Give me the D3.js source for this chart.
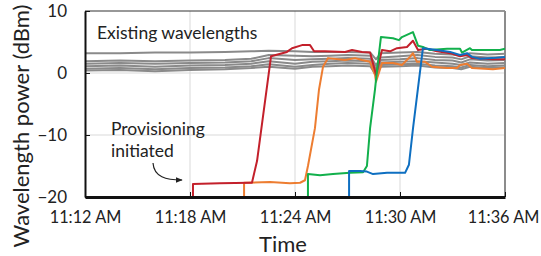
<!DOCTYPE html>
<html>
<head>
<meta charset="utf-8">
<title>Wavelength power</title>
<script src="https://cdn.jsdelivr.net/npm/d3@7"></script>
<style>
    body { margin: 0; background: #fff; }
    text { font-family: Lato, "Open Sans", sans-serif; fill: #222; }
</style>
</head>
<body>
<script>
    // minutes after 11:12 AM, and power in dBm
    var yTicks = [10, 0, -10, -20];
    var xTickMinutes = [0, 6, 12, 18, 24];

    var grayTimes = [0, 2, 4, 6, 8, 9.5, 10.5, 12, 13, 14, 15, 16.3, 16.63, 16.9, 18, 19, 20, 21, 21.5, 22, 23, 24];
    var gray1 = [3.2, 3.2, 3.3, 3.3, 3.4, 3.5, 3.6, 3.5, 3.4, 3.4, 3.4, 3.3, 2.2, 3.2, 3.3, 3.4, 3.1, 3.0, 2.8, 3.2, 3.0, 3.1];
    var gray2 = [1.9, 2.0, 1.9, 2.0, 2.1, 2.3, 2.9, 2.8, 2.7, 2.8, 2.9, 2.8, 1.2, 2.5, 2.7, 2.9, 2.6, 2.5, 2.2, 2.7, 2.5, 2.6];
    var gray3 = [1.5, 1.6, 1.5, 1.6, 1.7, 1.9, 2.4, 2.1, 2.2, 2.3, 2.4, 2.3, 0.7, 2.1, 2.2, 2.4, 2.1, 2.0, 1.7, 2.2, 2.0, 2.1];
    var gray4 = [1.1, 1.2, 1.0, 1.2, 1.3, 1.5, 1.9, 1.5, 1.8, 1.9, 2.0, 1.9, 0.3, 1.7, 1.8, 1.9, 1.7, 1.5, 1.3, 1.7, 1.5, 1.6];
    var gray5 = [0.7, 0.8, 0.6, 0.8, 0.9, 1.1, 1.4, 1.0, 1.3, 1.5, 1.6, 1.5, 0.0, 1.3, 1.4, 1.5, 1.2, 1.1, 0.9, 1.3, 1.1, 1.2];
    var gray6 = [0.4, 0.5, 0.3, 0.5, 0.6, 0.8, 1.0, 0.7, 1.0, 1.1, 1.2, 1.1, -0.4, 1.0, 1.1, 1.2, 0.9, 0.8, 0.6, 1.0, 0.8, 0.9];

    var redTimes = [6.17, 6.17, 7.71, 9.43, 9.54, 9.83, 10.63, 11.54, 11.83, 12.4, 12.86, 13.09, 13.71, 14.86, 15.26, 15.83, 16.29, 16.63, 16.97, 17.43, 17.83, 18.4, 18.74, 19.03, 19.54, 20.11, 20.86, 21.43, 21.83, 22.11, 23.31, 24];
    var redValues = [-20, -17.9, -17.8, -17.7, -17.7, -14.2, 2.7, 3.4, 4.0, 4.5, 4.5, 3.5, 3.5, 3.4, 3.7, 3.4, 3.3, -0.3, 3.7, 3.5, 4.0, 4.2, 5.2, 3.7, 3.9, 3.5, 3.2, 2.7, 2.9, 2.4, 2.2, 2.2];

    var orangeTimes = [9.09, 9.09, 10.57, 11.71, 12.29, 12.57, 12.74, 13.14, 13.37, 13.6, 13.89, 14.86, 15.43, 15.83, 16.29, 16.57, 16.63, 16.97, 17.6, 18.11, 18.57, 18.74, 18.97, 19.43, 19.83, 20.69, 21.26, 21.43, 21.83, 22.11, 23.31, 24];
    var orangeValues = [-20, -17.7, -17.6, -17.8, -17.7, -17.3, -15, -8.9, -2.7, 1.0, 2.4, 2.1, 2.4, 2.1, 1.8, -0.3, -1.4, 1.6, 1.6, 1.3, 2.6, 3.2, 1.8, 1.8, 1.0, 0.8, 0.8, 1.3, 1.5, 0.8, 0.6, 0.8];

    var greenTimes = [12.74, 12.74, 13.43, 14.17, 15.14, 15.89, 16.11, 16.29, 16.57, 16.69, 16.91, 17.6, 17.94, 18.11, 18.74, 19.03, 19.31, 19.71, 20.69, 21.43, 21.54, 22, 22.11, 23.71, 24];
    var greenValues = [-20, -16.3, -16.5, -16.3, -16.1, -16.0, -15.0, -8.9, -2.7, 0.5, 5.8, 5.6, 5.3, 5.8, 6.6, 4.4, 4.2, 3.7, 3.9, 3.9, 3.3, 4.0, 3.7, 3.7, 3.9];

    var blueTimes = [15.09, 15.09, 15.71, 16.11, 16.46, 17.26, 17.83, 18.29, 18.51, 18.74, 19.31, 20.11, 20.86, 21.43, 21.83, 22.11, 22.57, 23.31, 24];
    var blueValues = [-20, -15.8, -15.8, -15.9, -16.3, -16.1, -16.1, -16.1, -14.8, -9, 4.0, 3.7, 3.4, 2.9, 3.2, 2.6, 2.3, 2.4, 2.6];

    var width = 541, height = 256;
    var margin = { top: 11, right: 36, bottom: 59, left: 85 };
    var plotW = width - margin.left - margin.right;
    var plotH = height - margin.top - margin.bottom;

    var t0 = new Date(2020, 0, 1, 11, 12);
    function toDate(m) { return new Date(t0.getTime() + m * 60000); }

    var x = d3.scaleTime()
        .domain([toDate(0), toDate(24)])
        .range([0, plotW]);
    var y = d3.scaleLinear()
        .domain([-20, 10])
        .range([plotH, 0]);

    var svg = d3.select("body").append("svg")
        .attr("width", width)
        .attr("height", height);

    var defs = svg.append("defs");
    defs.append("clipPath").attr("id", "clip")
        .append("rect").attr("width", plotW).attr("height", plotH);
    defs.append("marker")
        .attr("id", "arrow")
        .attr("viewBox", "0 0 10 10")
        .attr("refX", 9).attr("refY", 5)
        .attr("markerWidth", 6).attr("markerHeight", 6)
        .attr("orient", "auto")
        .append("path").attr("d", "M0,1 L10,5 L0,9 Z").attr("fill", "#222");

    var g = svg.append("g").attr("transform", "translate(" + margin.left + "," + margin.top + ")");

    // gridlines
    g.append("g").selectAll("line")
        .data([0, -10])
        .join("line")
        .attr("x1", 0).attr("x2", plotW)
        .attr("y1", d => y(d)).attr("y2", d => y(d))
        .attr("stroke", "#d9d9d9").attr("stroke-width", 1);
    g.append("g").selectAll("line")
        .data([6, 12, 18])
        .join("line")
        .attr("x1", d => x(toDate(d))).attr("x2", d => x(toDate(d)))
        .attr("y1", 0).attr("y2", plotH)
        .attr("stroke", "#d9d9d9").attr("stroke-width", 1);

    // frame: dark top, grey right
    g.append("line").attr("x1", 0).attr("x2", plotW).attr("y1", 0).attr("y2", 0)
        .attr("stroke", "#333").attr("stroke-width", 1.2);
    g.append("line").attr("x1", plotW).attr("x2", plotW).attr("y1", 0).attr("y2", plotH)
        .attr("stroke", "#8c8c8c").attr("stroke-width", 2);

    var line = d3.line()
        .x(d => x(toDate(d[0])))
        .y(d => y(d[1]));

    var lines = g.append("g").attr("clip-path", "url(#clip)");

    var grays = [gray1, gray2, gray3, gray4, gray5, gray6];
    lines.selectAll("path.gray")
        .data(grays)
        .join("path")
        .attr("class", "gray")
        .attr("d", v => line(d3.zip(grayTimes, v)))
        .attr("fill", "none")
        .attr("stroke", "#8a8a8a")
        .attr("stroke-width", 2)
        .attr("stroke-linejoin", "round");

    var series = [
        { t: orangeTimes, v: orangeValues, color: "#ed7d31" },
        { t: redTimes, v: redValues, color: "#c3202b" },
        { t: greenTimes, v: greenValues, color: "#12b04c" },
        { t: blueTimes, v: blueValues, color: "#0e6fc1" }
    ];
    lines.selectAll("path.s")
        .data(series)
        .join("path")
        .attr("class", "s")
        .attr("d", s => line(d3.zip(s.t, s.v)))
        .attr("fill", "none")
        .attr("stroke", s => s.color)
        .attr("stroke-width", 2)
        .attr("stroke-linejoin", "round");

    // axes, ticks pointing inward
    var yAxis = g.append("g")
        .call(d3.axisLeft(y).tickValues(yTicks).tickSizeInner(-5).tickSizeOuter(0).tickPadding(18)
            .tickFormat(d3.format("d")));
    yAxis.select(".domain").attr("stroke", "#111").attr("stroke-width", 2);
    yAxis.selectAll(".tick line").attr("stroke", "#111");
    yAxis.selectAll("text").attr("font-size", 17).style("fill", "#222");

    var xAxis = g.append("g")
        .attr("transform", "translate(0," + plotH + ")")
        .call(d3.axisBottom(x).tickValues(xTickMinutes.map(toDate)).tickSizeInner(-5).tickSizeOuter(0).tickPadding(14)
            .tickFormat(d3.timeFormat("%-I:%M %p")));
    xAxis.select(".domain").attr("stroke", "#111").attr("stroke-width", 3);
    xAxis.selectAll(".tick line").attr("stroke", "#111");
    xAxis.selectAll("text").attr("font-size", 16.3).style("fill", "#222");
    xAxis.selectAll(".tick:last-of-type text").attr("dx", -2);

    // titles
    svg.append("text")
        .attr("transform", "translate(29," + (margin.top + plotH / 2 + 22) + ") rotate(-90)")
        .attr("text-anchor", "middle")
        .attr("font-size", 22)
        .text("Wavelength power (dBm)");
    svg.append("text")
        .attr("x", 283).attr("y", 252)
        .attr("text-anchor", "middle")
        .attr("font-size", 22)
        .text("Time");

    // annotations
    svg.append("text").attr("x", 97).attr("y", 39).attr("font-size", 17.5).text("Existing wavelengths");
    svg.append("text").attr("x", 111).attr("y", 135).attr("font-size", 17.5).text("Provisioning");
    svg.append("text").attr("x", 111).attr("y", 157).attr("font-size", 17.5).text("initiated");
    svg.append("path")
        .attr("d", "M153,163 C154,177 166,180 182,180")
        .attr("fill", "none")
        .attr("stroke", "#222")
        .attr("stroke-width", 1.2)
        .attr("marker-end", "url(#arrow)");
</script>
</body>
</html>
